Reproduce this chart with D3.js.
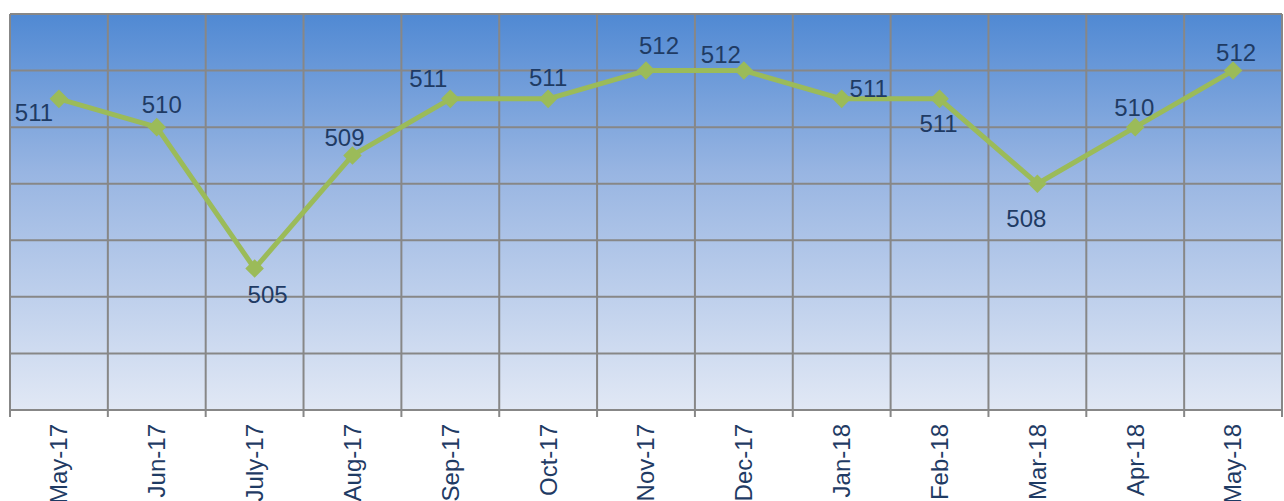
<!DOCTYPE html>
<html><head><meta charset="utf-8">
<script src="https://cdn.jsdelivr.net/npm/d3@7"></script>
<style>body{margin:0;background:#fff;overflow:hidden}svg{display:block}</style>
</head><body>
<svg id="c" width="1284" height="501"></svg>
<script>
const categories = ["May-17","Jun-17","July-17","Aug-17","Sep-17","Oct-17","Nov-17","Dec-17","Jan-18","Feb-18","Mar-18","Apr-18","May-18"];
const values = [511,510,505,509,511,511,512,512,511,511,508,510,512];
const yTicks = [500,502,504,506,508,510,512,514];
// label placement offsets (layout only)
const labelOffsets = [[-25,22],[5,-14],[13,34],[-8,-9],[-22,-12],[0,-13],[13,-17],[-23,-8],[27,-2],[-1,33],[-11,43],[-1,-11],[3,-10]];

const svg = d3.select("#c");
const m = {l:10, r:1282, t:14, b:410};
const x = d3.scaleBand().domain(categories).range([m.l, m.r]);
const y = d3.scaleLinear().domain([500,514]).range([m.b, m.t]);

const defs = svg.append("defs");
const g = defs.append("linearGradient").attr("id","bg").attr("x1",0).attr("y1",0).attr("x2",0).attr("y2",1);
g.append("stop").attr("offset","0%").attr("stop-color","#5089d3");
g.append("stop").attr("offset","40%").attr("stop-color","#98b5e2");
g.append("stop").attr("offset","100%").attr("stop-color","#e1e8f5");

svg.append("rect").attr("x",m.l).attr("y",m.t).attr("width",m.r-m.l).attr("height",m.b-m.t).attr("fill","url(#bg)");

const grid = svg.append("g").attr("stroke","#878787").attr("stroke-width",2);
grid.selectAll("line.h").data(yTicks).join("line").attr("class","h")
  .attr("x1",m.l).attr("x2",m.r).attr("y1",d=>y(d)).attr("y2",d=>y(d));
const xEdges = categories.map(c=>x(c)).concat([m.r]);
grid.selectAll("line.v").data(xEdges).join("line").attr("class","v")
  .attr("x1",d=>d).attr("x2",d=>d).attr("y1",m.t).attr("y2",m.b+7);

const line = d3.line().x((d,i)=>x(categories[i])+x.bandwidth()/2).y(d=>y(d));
svg.append("path").datum(values).attr("d",line).attr("fill","none")
  .attr("stroke","#9bbb59").attr("stroke-width",5).attr("stroke-linejoin","round");

svg.selectAll("path.mk").data(values).join("path").attr("class","mk")
  .attr("d",d3.symbol().type(d3.symbolDiamond2).size(220))
  .attr("transform",(d,i)=>`translate(${x(categories[i])+x.bandwidth()/2},${y(d)})`)
  .attr("fill","#9bbb59");

svg.selectAll("text.v").data(values).join("text").attr("class","v")
  .attr("x",(d,i)=>x(categories[i])+x.bandwidth()/2+labelOffsets[i][0])
  .attr("y",(d,i)=>y(d)+labelOffsets[i][1])
  .attr("text-anchor","middle")
  .attr("font-family","Liberation Sans, Arial, sans-serif").attr("font-size",24)
  .attr("fill","#1f3b64").text(d=>d);

const xa = svg.append("g").attr("transform",`translate(0,${m.b})`)
  .call(d3.axisBottom(x).tickSize(0).tickPadding(0));
xa.select(".domain").remove();
xa.selectAll("text").attr("transform","rotate(-90)")
  .attr("text-anchor","end").attr("dy","0.35em").attr("x",-14).attr("y",0)
  .attr("font-family","Liberation Sans, Arial, sans-serif").attr("font-size",24)
  .attr("fill","#1f3b64");
</script>
</body></html>
